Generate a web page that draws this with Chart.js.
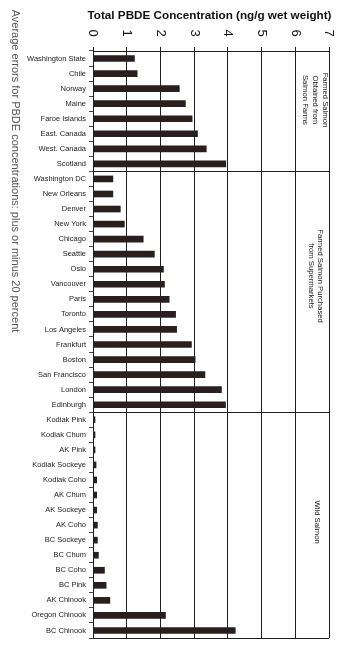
<!DOCTYPE html>
<html>
<head>
<meta charset="utf-8">
<script src="https://cdn.jsdelivr.net/npm/chart.js@4"></script>
<style>
  html, body { margin: 0; padding: 0; background: #fff; }
  #wrap { position: relative; width: 350px; height: 656px; }
</style>
</head>
<body>
<div id="wrap"><canvas id="c"></canvas></div>
<script>
const categories = [
  "Washington State","Chile","Norway","Maine","Faroe Islands","East. Canada","West. Canada","Scotland",
  "Washington DC","New Orleans","Denver","New York","Chicago","Seattle","Oslo","Vancouver","Paris","Toronto",
  "Los Angeles","Frankfurt","Boston","San Francisco","London","Edinburgh",
  "Kodiak Pink","Kodiak Chum","AK Pink","Kodiak Sockeye","Kodiak Coho","AK Chum","AK Sockeye","AK Coho",
  "BC Sockeye","BC Chum","BC Coho","BC Pink","AK Chinook","Oregon Chinook","BC Chinook"
];
const pbdeValues = [
  1.23, 1.31, 2.56, 2.74, 2.94, 3.10, 3.36, 3.94,
  0.59, 0.59, 0.81, 0.93, 1.49, 1.82, 2.09, 2.12, 2.26, 2.45,
  2.48, 2.92, 3.03, 3.32, 3.81, 3.93,
  0.06, 0.06, 0.06, 0.09, 0.11, 0.11, 0.11, 0.13,
  0.13, 0.16, 0.34, 0.39, 0.50, 2.15, 4.22
];
const xTickLabels = ["0","1","2","3","4","5","6","7"];
const groupBoundaries = [8, 24];
const groupLabels = [
  ["Farmed Salmon", "Obtained from", "Salmon Farms"],
  ["Farmed Salmon Purchased", "from Supermarkets"],
  ["Wild Salmon"]
];
const groupAnchorIndex = [2.75, 14.45, 30.8];
const chartTitle = "Total PBDE Concentration (ng/g wet weight)";
const sideTitle = "Average errors for PBDE concentrations: plus or minus 20 percent";

const FONT = '"Liberation Sans", Arial, sans-serif';
const LINE = '#1e1e1e';

const textPlugin = {
  id: 'customText',
  afterDraw(chart) {
    const ctx = chart.ctx;
    const xs = chart.scales.x, ys = chart.scales.y;
    const area = chart.chartArea;
    ctx.save();
    // title
    ctx.fillStyle = '#111';
    ctx.font = 'bold 11.7px ' + FONT;
    ctx.textAlign = 'center';
    ctx.textBaseline = 'middle';
    ctx.fillText(chartTitle, 209.5, 16);
    // rotated tick numbers
    ctx.font = '13px ' + FONT;
    xTickLabels.forEach((t, i) => {
      const x = xs.getPixelForValue(i);
      ctx.save();
      ctx.translate(x, 33);
      ctx.rotate(Math.PI / 2);
      ctx.fillText(t, 0, 0);
      ctx.restore();
    });
    // left side title
    ctx.fillStyle = '#555';
    ctx.font = '11px ' + FONT;
    ctx.save();
    ctx.translate(15, 171);
    ctx.rotate(Math.PI / 2);
    ctx.fillText(sideTitle, 0, 0);
    ctx.restore();
    // group labels
    ctx.fillStyle = '#222';
    ctx.font = '7.7px ' + FONT;
    const gx = [area.right - 3.5, area.right - 9, area.right - 12];
    const lh = [10.3, 9, 9];
    groupLabels.forEach((lines, g) => {
      const cy = ys.getPixelForValue(groupAnchorIndex[g]);
      ctx.save();
      ctx.translate(gx[g], cy);
      ctx.rotate(Math.PI / 2);
      lines.forEach((ln, k) => ctx.fillText(ln, 0, k * lh[g]));
      ctx.restore();
    });
    ctx.restore();
  }
};

new Chart(document.getElementById('c'), {
  type: 'bar',
  data: {
    labels: categories,
    datasets: [{
      data: pbdeValues,
      backgroundColor: '#2a1f1f',
      borderWidth: 0,
      barThickness: 6
    }]
  },
  options: {
    indexAxis: 'y',
    responsive: true,
    maintainAspectRatio: false,
    animation: false,
    layout: { padding: { left: 0, top: 0, right: 21, bottom: 18 } },
    plugins: { legend: { display: false }, tooltip: { enabled: false } },
    scales: {
      x: {
        position: 'top',
        min: 0, max: 7,
        ticks: { display: false, stepSize: 1 },
        grid: { color: LINE, lineWidth: 1, tickLength: 4, drawTicks: true },
        border: { color: LINE, width: 1 },
        afterFit(scale) { scale.height = 51; }
      },
      y: {
        ticks: {
          autoSkip: false,
          color: '#222',
          padding: 3,
          font: { family: FONT, size: 7.5 }
        },
        grid: {
          offset: true,
          drawTicks: true,
          tickLength: 4,
          tickColor: '#444',
          color: (c) => (c.index === undefined || groupBoundaries.includes(c.index)) ? LINE : 'rgba(0,0,0,0)'
        },
        border: { color: LINE, width: 1 },
        afterFit(scale) { scale.width = 93; }
      }
    }
  },
  plugins: [textPlugin]
});
</script>
</body>
</html>
